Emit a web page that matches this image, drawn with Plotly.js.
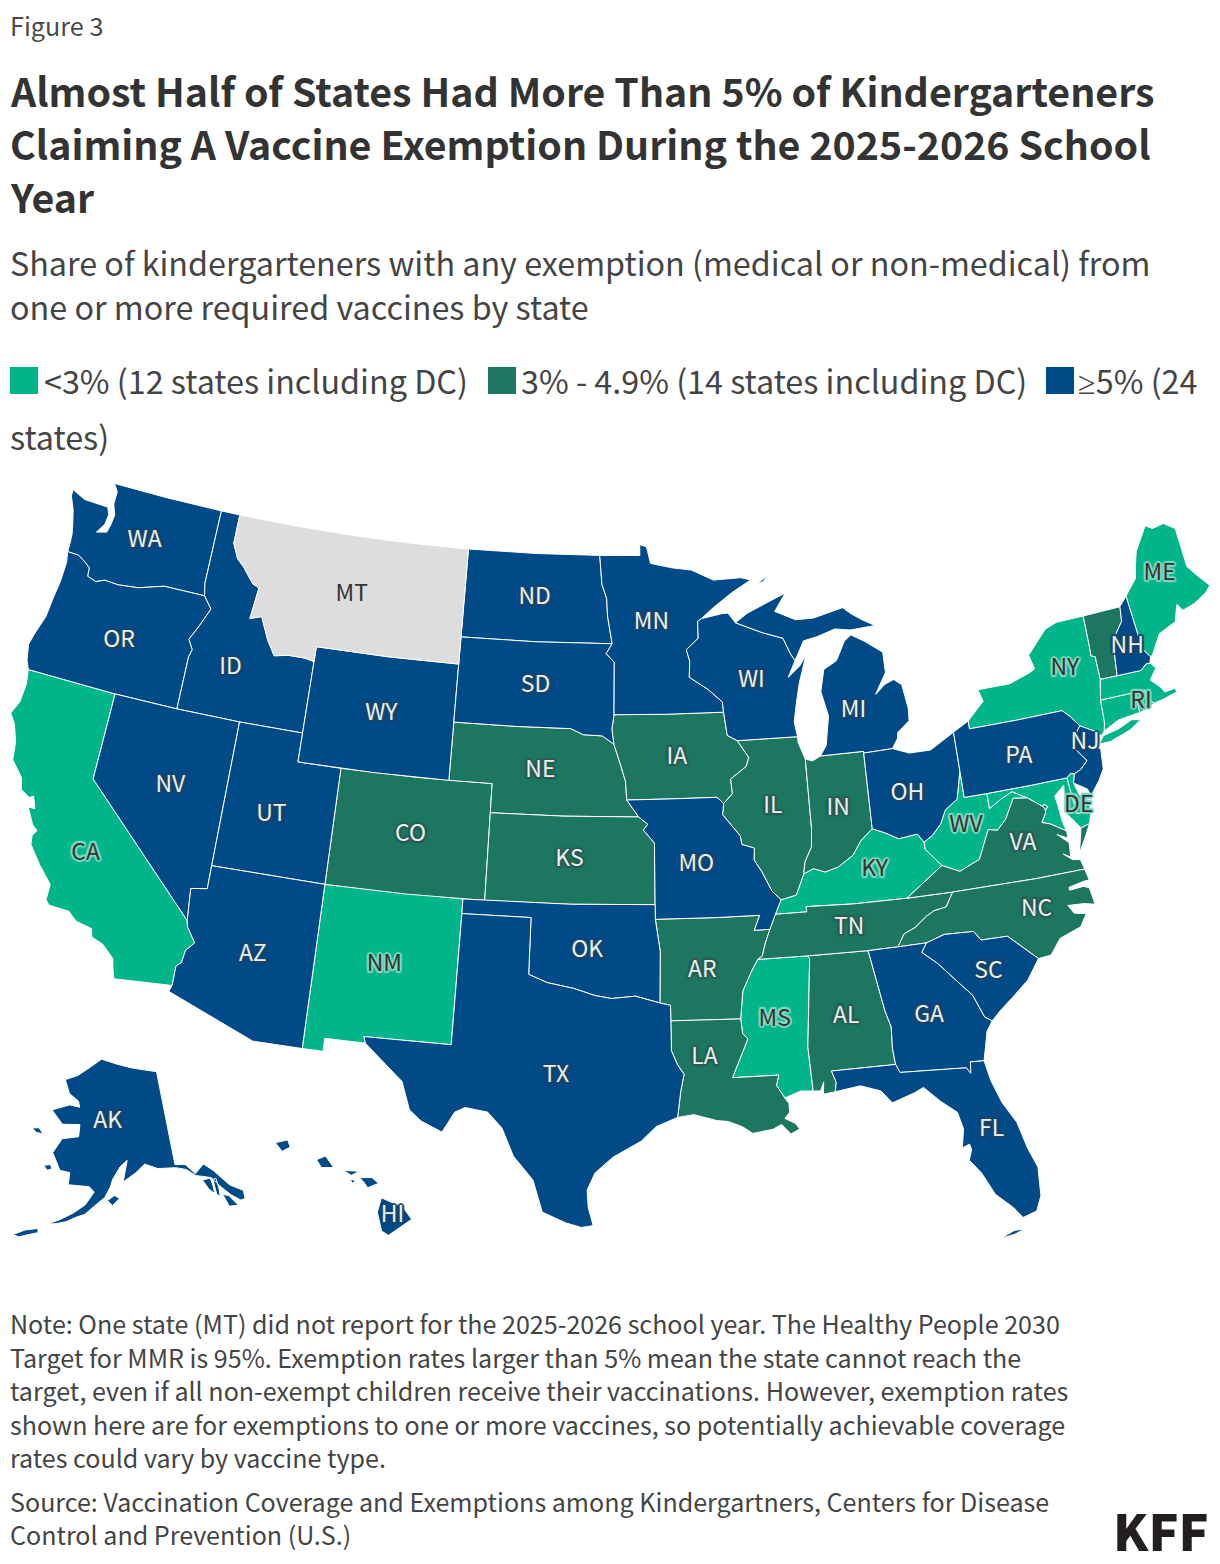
<!DOCTYPE html>
<html><head><meta charset="utf-8">
<script>window.PlotlyGeoAssets={topojson:{usa_110m:{type:'Topology',arcs:[],objects:{land:{type:'GeometryCollection',geometries:[]},ocean:{type:'GeometryCollection',geometries:[]},lakes:{type:'GeometryCollection',geometries:[]},rivers:{type:'GeometryCollection',geometries:[]},coastlines:{type:'GeometryCollection',geometries:[]},countries:{type:'GeometryCollection',geometries:[]},subunits:{type:'GeometryCollection',geometries:[]}}}}};</script>
<script src="https://cdn.plot.ly/plotly-3.0.1.min.js"></script>
<style>html,body{margin:0;padding:0;background:#fff}#c{width:1220px;height:1564px}
svg .geo,svg .geo *{clip-path:none!important}</style>
</head><body><div id="c"></div>
<script>
const lowStates=["CA","NM","MS","KY","WV","NY","ME","MA","CT","RI","MD","DE"];
const midStates=["CO","NE","KS","IA","IL","IN","AR","LA","AL","TN","VA","NC","VT","DC"];
const highStates=["WA","OR","ID","NV","UT","AZ","WY","ND","SD","MN","WI","MI","OH","PA","NJ","NH","MO","OK","TX","GA","SC","FL","AK","HI"];
const noData=["MT"];
const unlabeled=["VT","CT","MA","MD","DC"];
const figureLabel="Figure 3";
const titleLines=["Almost Half of States Had More Than 5% of Kindergarteners","Claiming A Vaccine Exemption During the 2025-2026 School","Year"];
const subtitleLines=["Share of kindergarteners with any exemption (medical or non-medical) from","one or more required vaccines by state"];
const legendLabels=["<3% (12 states including DC)","3% - 4.9% (14 states including DC)","≥5% (24"];
const legendWrap="states)";
const noteLines=["Note: One state (MT) did not report for the 2025-2026 school year. The Healthy People 2030","Target for MMR is 95%. Exemption rates larger than 5% mean the state cannot reach the","target, even if all non-exempt children receive their vaccinations. However, exemption rates","shown here are for exemptions to one or more vaccines, so potentially achievable coverage","rates could vary by vaccine type."];
const sourceLines=["Source: Vaccination Coverage and Exemptions among Kindergartners, Centers for Disease","Control and Prevention (U.S.)"];
const labelPos={WA:[-120.48,47.33],OR:[-120.45,43.78],CA:[-119.5,36.45],ID:[-114.95,43.73],NV:[-116.55,39.37],UT:[-111.85,39.05],AZ:[-111.65,34.25],MT:[-109.7,46.95],WY:[-107.5,43.0],CO:[-105.55,39.0],NM:[-106.1,34.5],ND:[-100.5,47.43],SD:[-100.25,44.4],NE:[-99.85,41.5],KS:[-98.4,38.5],OK:[-97.55,35.4],TX:[-98.73,31.1],MN:[-94.6,46.65],IA:[-93.5,42.0],MO:[-92.77,38.3],AR:[-92.67,34.7],LA:[-92.7,31.7],WI:[-89.8,44.5],IL:[-89.2,40.15],MS:[-89.75,32.9],AL:[-86.8,32.8],TN:[-86.3,35.8],KY:[-84.93,37.67],IN:[-86.25,39.9],MI:[-85.05,43.15],OH:[-83.05,40.1],GA:[-83.4,32.5],FL:[-81.57,28.3],SC:[-80.7,33.7],NC:[-78.25,35.5],VA:[-78.3,37.8],WV:[-80.65,38.75],PA:[-77.75,40.75],NJ:[-74.65,40.73],DE:[-75.54,38.7],NY:[-74.8,43.35],RI:[-71.68,41.66],NH:[-71.65,43.6],ME:[-69.2,45.7],AK:[-154.6,65.1],HI:[-155.5,19.6]};
const arcs={
wa_id:[[-117.03,49],[-117.04,46.42],[-116.92,46]],
wa_or:[[-116.92,46],[-118.98,46],[-119.3,45.93],[-120.2,45.73],[-121.2,45.65],[-121.9,45.68],[-122.3,45.55],[-122.76,45.65],[-122.8,45.95],[-123.2,46.15],[-123.5,46.26],[-124.05,46.27]],
or_id:[[-117.03,42],[-117.03,43.83],[-116.93,44.1],[-117.2,44.42],[-116.85,44.95],[-116.47,45.6],[-116.92,46]],
id_mt:[[-116.05,49],[-116.05,48],[-115.7,47.5],[-115.3,47.25],[-114.7,46.75],[-114.35,46.65],[-114.5,45.55],[-113.95,45.7],[-113.45,44.95],[-113,44.45],[-112.3,44.55],[-111.5,44.55],[-111.05,44.48]],
nv_ca:[[-120,42],[-120,39],[-114.63,35]],
ca_az:[[-114.63,35],[-114.57,34.8],[-114.14,34.3],[-114.45,34],[-114.53,33.55],[-114.72,33.4],[-114.72,32.72]],
red:[[-100,34.56],[-99.2,34.3],[-98.1,34.13],[-97.2,33.9],[-96.5,33.8],[-95.5,33.88],[-94.48,33.64]],
sabine:[[-94.04,33.02],[-94.04,31.99],[-93.8,31.5],[-93.55,31.18],[-93.7,30.6],[-93.75,30.3],[-93.85,29.7]],
oh_wv:[[-80.52,40.64],[-80.85,39.7],[-81.45,39.4],[-81.75,38.95],[-82.2,38.6],[-82.6,38.42]],
oh_ky:[[-82.6,38.42],[-82.85,38.72],[-83.7,38.65],[-84.25,38.9],[-84.82,39.1]],
in_ky:[[-84.82,39.1],[-85.4,38.73],[-85.8,38.28],[-86.5,37.93],[-87.1,37.8],[-87.6,37.95],[-88.05,37.8]],
il_ky:[[-88.05,37.8],[-88.45,37.1],[-89.13,36.98]],
in_il:[[-87.53,41.7],[-87.53,39.35],[-87.6,38.7],[-87.95,38.2],[-88.05,37.8]],
il_ia:[[-90.64,42.5],[-90.15,41.9],[-90.3,41.6],[-91.05,41.2],[-91,40.7],[-91.42,40.38]],
il_mo:[[-91.42,40.38],[-91.5,40],[-90.75,39.25],[-90.7,38.95],[-90.15,38.8],[-90.2,38.4],[-89.9,38],[-89.5,37.3],[-89.13,36.98]],
mo_ar:[[-89.7,36],[-90.37,36],[-90.1,36.5],[-92,36.5],[-94.62,36.5]],
ar_tn:[[-89.7,36],[-89.95,35.5],[-90.1,35.1],[-90.3,35]],
ar_ms:[[-90.3,35],[-90.6,34.6],[-91,33.95],[-91.15,33]],
la_ms:[[-91.15,33],[-91.1,32.5],[-90.9,32.3],[-91.6,31],[-89.73,31],[-89.85,30.65],[-89.55,30.2]],
ms_al:[[-88.2,35],[-88.1,34.9],[-88.47,31.9],[-88.4,30.37]],
al_ga:[[-85.6,34.98],[-85.18,32.87],[-85,32.3],[-85.05,31.55],[-85,31]],
ga_sc:[[-83.1,35],[-83.35,34.7],[-82.75,34.25],[-82,33.5],[-81.5,33],[-81.15,32.2],[-80.87,32.03]],
ga_fl:[[-85,31],[-84.86,30.71],[-82.2,30.57],[-82.05,30.36],[-82,30.75],[-81.45,30.72]],
al_fl:[[-87.52,30.28],[-87.45,30.6],[-87.6,31],[-85,31]],
ne_ia:[[-96.45,42.49],[-96.1,41.7],[-95.9,41.2],[-95.85,40.58]],
ne_mo:[[-95.85,40.58],[-95.31,40]],
ks_mo:[[-95.31,40],[-94.9,39.75],[-95.1,39.55],[-94.61,39.1],[-94.62,37]],
sd_ne:[[-104.05,43],[-101,43],[-98.5,43],[-97.9,42.8],[-97,42.77],[-96.45,42.49]],
sd_ia:[[-96.45,43.5],[-96.55,43],[-96.45,42.49]],
mn_sd:[[-96.45,43.5],[-96.45,45.3],[-96.85,45.6],[-96.56,45.94]],
nd_mn:[[-97.23,49],[-97.1,48],[-96.85,47.5],[-96.8,46.9],[-96.56,45.94]],
mn_wi:[[-92.1,46.75],[-92.29,46.66],[-92.29,46.08],[-92.9,45.7],[-92.75,45.3],[-92.8,44.75],[-91.9,44.3],[-91.25,43.85],[-91.22,43.5]],
ia_wi:[[-91.22,43.5],[-91.1,42.7],[-90.64,42.5]],
wi_mi:[[-90.4,46.55],[-89.1,46.15],[-88.1,45.9],[-87.8,45.35],[-87.6,45.1]],
tn_nc:[[-84.32,34.99],[-84,35.4],[-83.5,35.57],[-82.95,35.9],[-82.6,36.05],[-82.05,36.12],[-81.68,36.59]],
ky_va:[[-83.68,36.6],[-81.97,37.54]],
ky_tn:[[-89.42,36.5],[-88.05,36.5],[-88.07,36.68],[-86,36.62],[-83.68,36.6]],
wv_va:[[-81.97,37.54],[-81.23,37.25],[-80.3,37.55],[-79.7,38.5],[-79.3,38.42],[-78.85,38.75],[-78.35,39.4],[-77.72,39.32]],
ky_wv:[[-81.97,37.54],[-82.6,38.17],[-82.6,38.42]],
md_wv:[[-79.48,39.72],[-79.48,39.2],[-78.9,39.45],[-78.35,39.63],[-77.72,39.32]],
pa_nj:[[-74.7,41.36],[-75.13,40.98],[-75.2,40.68],[-74.73,40.15],[-75.1,39.9],[-75.42,39.8]],
md_va_s:[[-77.04,38.79],[-77.05,38.7],[-77.3,38.4],[-76.95,38.3],[-76.3,37.95]],
vt_nh:[[-71.5,45],[-71.6,44.5],[-72.05,44.1],[-72.3,43.6],[-72.46,42.73]],
sc_nc:[[-83.1,35],[-82.3,35.2],[-81.05,35.15],[-80.8,34.82],[-79.67,34.8],[-78.55,33.86]],
ny_vt:[[-73.35,45],[-73.4,44],[-73.43,43.6],[-73.25,43.55],[-73.27,42.75]],
ny_ne:[[-73.27,42.75],[-73.49,42.05],[-73.55,41.3],[-73.65,41]],
ct_coast:[[-73.65,41],[-72.9,41.25],[-71.86,41.32]],
ma_ct:[[-73.49,42.05],[-71.8,42.02]],
ct_ri:[[-71.8,42.02],[-71.86,41.32]],
ma_ri:[[-71.8,42.02],[-71.38,42.02],[-71.35,41.75],[-71.12,41.5]],
ma_nh:[[-72.46,42.73],[-71.3,42.7],[-71,42.87],[-70.8,42.87]],
nh_me:[[-71.08,45.3],[-70.98,43.4],[-70.7,43.07]]
};
function ring(parts){let out=[];for(const p of parts){if(typeof p==='string'){const rev=p[0]==='-';const a=arcs[rev?p.slice(1):p];out=out.concat(rev?a.slice().reverse():a);}else out.push(p);}return out;}
const stateParts={
WA:[[[-122.76,49],[-120,49],'wa_id','wa_or',[-124.07,46.65],[-124.1,46.9],[-124.2,47.2],[-124.4,47.7],[-124.7,48.15],[-124.72,48.38],[-124,48.17],[-123.1,48.15],[-122.75,48.14],[-122.6,47.9],[-122.65,47.55],[-122.95,47.2],[-122.45,47.3],[-122.35,47.6],[-122.3,47.95],[-122.5,48.3],[-122.5,48.75]]],
OR:[[[-123.95,45.9],[-123.97,45.2],[-124.07,44.6],[-124.15,43.9],[-124.4,43.3],[-124.55,42.84],[-124.4,42.3],[-124.21,42],[-120,42],'or_id','wa_or']],
ID:[[[-117.03,49],'id_mt',[-111.05,42],[-114.04,42],'or_id','-wa_id']],
MT:[[[-116.05,49],[-113,49],[-110,49],[-107,49],[-104.05,49],[-104.05,45],[-107.5,45],[-111.05,45],'-id_mt']],
WY:[[[-111.05,45],[-107.5,45],[-104.05,45],[-104.05,41],[-107.5,41],[-111.05,41]]],
CA:[[[-124.21,42],'nv_ca','ca_az',[-117.12,32.53],[-117.25,32.85],[-117.35,33.2],[-117.9,33.6],[-118.4,33.75],[-118.5,34.03],[-119.2,34.15],[-119.6,34.42],[-120.47,34.45],[-120.65,34.6],[-120.65,35.15],[-121.3,35.7],[-121.9,36.3],[-121.95,36.6],[-121.8,36.8],[-122.05,36.95],[-122.45,37.5],[-122.15,37.5],[-122.35,37.9],[-122.52,37.82],[-122.95,38],[-123.1,38.4],[-123.7,38.9],[-123.8,39.5],[-124.1,40.1],[-124.4,40.4],[-124.15,40.85],[-124.1,41.5]]],
NV:[[[-120,42],[-117.03,42],[-114.04,42],[-114.05,37],[-114.05,36.2],[-114.75,36.1],'-nv_ca']],
AZ:[[[-114.05,37],[-109.05,37],[-109.05,31.33],[-111.07,31.33],[-114.81,32.5],'-ca_az',[-114.75,36.1],[-114.05,36.2]]],
UT:[[[-114.04,42],[-111.05,42],[-111.05,41],[-109.05,41],[-109.05,37],[-114.05,37]]],
CO:[[[-109.05,41],[-105.5,41],[-102.05,41],[-102.05,37],[-105.5,37],[-109.05,37]]],
NM:[[[-109.05,37],[-103,37],[-103,36.5],[-103.04,32],[-106.62,32],[-106.53,31.78],[-108.2,31.78],[-108.2,31.33],[-109.05,31.33]]],
ND:[[[-104.05,49],[-100.5,49],'nd_mn',[-100.3,45.94],[-104.05,45.94]]],
SD:[[[-104.05,45.94],[-100.3,45.94],'-mn_sd','sd_ia','-sd_ne']],
NE:[['sd_ne','ne_ia','ne_mo',[-98.7,40],[-102.05,40],[-102.05,41],[-104.05,41]]],
KS:[[[-102.05,40],[-98.7,40],'ks_mo',[-98.3,37],[-102.05,37]]],
OK:[[[-103,37],[-98.3,37],[-94.62,37],[-94.62,36.5],[-94.43,35.4],'-red',[-100,36.5],[-103,36.5]]],
TX:[[[-103,36.5],[-100,36.5],'red',[-94.04,33.55],'sabine',[-94.7,29.4],[-95.3,28.9],[-96.4,28.35],[-97.1,27.8],[-97.4,27.2],[-97.35,26.6],[-97.15,25.97],[-97.6,25.9],[-98.2,26.05],[-99.1,26.4],[-99.5,27.5],[-100.3,28.3],[-100.8,29.25],[-101.4,29.77],[-102.3,29.88],[-102.7,29.7],[-103.15,28.98],[-104,29.3],[-104.5,29.65],[-104.9,30.6],[-106,31.4],[-106.53,31.78],[-106.62,32],[-103.04,32]]],
MN:[[[-97.23,49],[-95.15,49],[-95.15,49.38],[-94.8,49.3],[-94.6,48.72],[-93.5,48.55],[-92.5,48.45],[-91.4,48.07],[-90,48.1],[-89.5,48],[-90.5,47.6],[-91.5,47.1],'mn_wi',[-94,43.5],'mn_sd','-nd_mn']],
IA:[[[-96.45,43.5],[-94,43.5],[-91.22,43.5],'ia_wi','il_ia',[-91.72,40.6],[-93.8,40.6],[-95.85,40.58],'-ne_ia','-sd_ia']],
MO:[[[-95.85,40.58],[-93.8,40.6],[-91.72,40.6],'il_mo',[-89.42,36.5],'mo_ar',[-94.62,37],'-ks_mo','-ne_mo']],
AR:[['-mo_ar','ar_tn','ar_ms',[-94.04,33.02],[-94.04,33.55],[-94.48,33.64],[-94.43,35.4]]],
LA:[[[-94.04,33.02],'la_ms',[-89.4,30],[-89.4,29.7],[-89.6,29.5],[-89.2,29.3],[-89.05,29.1],[-89.4,28.95],[-89.75,29.3],[-90.1,29.15],[-90.9,29.05],[-91.3,29.3],[-91.85,29.5],[-92.3,29.55],[-93.2,29.78],'-sabine']],
WI:[[[-91,46.9],[-90.75,46.9],'wi_mi',[-88,44.55],[-87.4,44.9],[-87.05,45.25],[-87.5,44.3],[-87.7,43.7],[-87.9,43],[-87.8,42.49],[-90.64,42.5],'-ia_wi','-mn_wi']],
MI:[[[-86.82,41.76],[-84.8,41.76],[-84.8,41.7],[-83.45,41.73],[-83.15,42.05],[-83.1,42.25],[-82.5,42.6],[-82.45,43],[-82.6,43.85],[-82.95,44.07],[-83.4,43.95],[-83.9,43.65],[-83.3,44.35],[-83.3,45.05],[-84.1,45.5],[-84.75,45.78],[-85.1,45.6],[-85.4,45.2],[-85.6,44.95],[-86.25,44.7],[-86.5,43.95],[-86.25,43.1],[-86.5,42.1]],['wi_mi',[-87.1,45.75],[-86.4,45.85],[-85.5,46.05],[-84.75,45.95],[-83.5,46],[-84.1,46.25],[-84.6,46.5],[-85,46.75],[-86.5,46.5],[-87.4,46.5],[-88.4,46.85],[-87.8,47.45],[-88.5,47.25],[-89.8,46.85]],[[-89.2,47.85],[-88.5,48.15],[-88.9,47.9]]],
IL:[[[-87.53,41.7],[-87.8,42.3],[-87.8,42.49],'il_ia','il_mo','-il_ky','-in_il']],
IN:[[[-84.82,39.1],[-84.8,41.76],[-86.82,41.76],[-87.2,41.62],'in_il','-in_ky']],
OH:[[[-84.82,39.1],[-84.8,41.7],[-83.45,41.73],[-82.7,41.5],[-81.7,41.5],[-80.52,41.98],'oh_wv','oh_ky']],
KY:[['ky_tn','ky_va','ky_wv','oh_ky','in_ky','il_ky']],
TN:[[[-89.7,36],'ar_tn',[-88.2,35],[-85.6,34.98],'tn_nc',[-83.68,36.6],[-86,36.62],[-88.07,36.68],[-88.05,36.5],[-89.42,36.5]]],
MS:[[[-90.3,35],[-88.2,35],'ms_al',[-88.9,30.4],'-la_ms','-ar_ms']],
AL:[[[-88.2,35],[-85.6,34.98],'al_ga','-al_fl',[-88,30.23],[-87.95,30.65],[-88.1,30.35],'-ms_al']],
GA:[[[-85.6,34.98],[-84.32,34.99],[-83.1,35],'ga_sc',[-81.15,31.7],[-81.3,31.2],'-ga_fl','-al_ga']],
FL:[['al_fl','ga_fl',[-81.3,30],[-81,29.2],[-80.55,28.45],[-80.3,27.5],[-80.03,26.8],[-80.1,25.8],[-80.35,25.3],[-80.9,25.15],[-81.2,25.55],[-81.8,26.1],[-82.2,26.9],[-82.6,27.4],[-82.45,27.75],[-82.5,27.95],[-82.8,27.85],[-82.65,28.5],[-82.8,29.1],[-83.4,29.55],[-84,30.1],[-84.4,29.95],[-85.3,29.7],[-85.7,30.15],[-86.5,30.4]],[[-81.85,24.55],[-81.3,24.75],[-80.9,24.75],[-81.3,24.62]]],
SC:[['sc_nc',[-79.15,33.2],[-79.9,32.7],[-80.45,32.35],'-ga_sc']],
NC:[['tn_nc',[-78,36.56],[-75.87,36.55],[-75.78,36.15],[-76,36.15],[-76.7,36.05],[-76.7,35.95],[-76.1,35.98],[-75.85,35.9],[-75.75,35.3],[-76.2,35.4],[-76.9,35.45],[-76.7,35.15],[-76.2,35.05],[-76.55,34.65],[-77.5,34.4],[-78,33.9],'-sc_nc']],
VA:[[[-83.68,36.6],[-81.68,36.59],[-78,36.56],[-75.87,36.55],[-75.97,36.9],[-76.3,36.95],[-76.65,37.2],[-76.35,37.05],[-76.3,37.55],[-76.75,37.9],[-76.3,37.7],'-md_va_s',[-77.05,38.87],[-77.12,38.93],'-wv_va','-ky_va'],[[-75.95,37.12],[-75.6,37.55],[-75.24,38.03],[-75.65,37.95]]],
WV:[['ky_wv','-oh_wv',[-80.52,39.72],'md_wv','-wv_va']],
PA:[[[-80.52,41.98],[-79.76,42.27],[-79.76,42],[-77.5,42],[-75.35,42],[-75.05,41.75],'pa_nj',[-75.6,39.84],[-75.79,39.72],[-77.5,39.72],[-79.48,39.72],[-80.52,39.72],[-80.52,40.64]]],
NY:[[[-79.76,42.27],[-78.9,42.85],[-79.05,43.27],[-77.5,43.27],[-76.5,43.5],[-76.2,43.6],[-76.35,44.1],[-75.3,44.85],[-74.7,45],'ny_vt','ny_ne',[-73.85,40.85],[-73.95,41],[-74.7,41.36],[-75.05,41.75],[-75.35,42],[-77.5,42],[-79.76,42]],[[-74,40.6],[-73.75,40.85],[-73,40.95],[-72.3,41.15],[-71.9,41.07],[-72.5,40.82],[-73.5,40.6]]],
NJ:[['pa_nj',[-75.55,39.5],[-75,39.2],[-74.9,38.95],[-74.4,39.4],[-74.1,39.75],[-74,40.45],[-74.2,40.5],[-74.03,40.7],[-73.95,41]]],
DE:[[[-75.79,39.72],[-75.6,39.84],[-75.42,39.8],[-75.55,39.5],[-75.4,39.05],[-75.1,38.8],[-75.05,38.45],[-75.7,38.46]]],
MD:[[[-79.48,39.72],[-77.5,39.72],[-75.79,39.72],[-75.7,38.46],[-75.05,38.45],[-75.24,38.03],[-75.65,37.95],[-75.85,38.2],[-76.2,38.6],[-76,39.5],[-76.5,39.2],[-76.45,38.9],[-76.4,38.3],[-76.3,37.95],[-76.95,38.3],[-77.3,38.4],[-77.05,38.7],[-77.04,38.79],[-76.91,38.89],[-77.04,39],[-77.12,38.93],'-md_wv']],
DC:[[[-77.12,38.93],[-77.04,39],[-76.91,38.89],[-77.04,38.79],[-77.05,38.87]]],
VT:[[[-73.35,45],[-71.5,45],'vt_nh',[-73.27,42.75],'-ny_vt']],
NH:[[[-71.5,45],[-71.08,45.3],'nh_me',[-70.8,42.87],'-ma_nh','-vt_nh']],
ME:[[[-71.08,45.3],[-70.4,45.8],[-70.25,46.2],[-70,46.7],[-69.22,47.46],[-68.9,47.3],[-68.3,47.36],[-67.8,47.07],[-67.8,45.7],[-67.45,45.3],[-67,44.85],[-67.3,44.65],[-68,44.4],[-68.6,44.3],[-68.8,44.55],[-69,44.2],[-69.1,44],[-70,43.75],[-70.6,43.1],[-70.7,43.07],[-70.98,43.4]]],
MA:[[[-73.27,42.75],[-72.46,42.73],'ma_nh',[-70.6,42.65],[-71,42.3],[-70.6,41.95],[-70.5,41.78],[-70,41.8],[-70.05,42.05],[-69.95,41.67],[-70.65,41.55],[-71.12,41.5],'-ma_ri','-ma_ct']],
CT:[['ma_ct','ct_ri','-ct_coast',[-73.55,41.3]]],
RI:[['ma_ri',[-71.5,41.37],[-71.86,41.32],'-ct_ri']],
AK:[[[-141,69.65],[-144,70],[-148,70.4],[-152,70.85],[-156.6,71.35],[-160,70.4],[-163,69.5],[-166.2,68.9],[-164.5,67.6],[-162,67],[-161.5,66.4],[-164,66.5],[-168,65.7],[-165,64.5],[-161,64.7],[-161,63.5],[-164.5,63.1],[-166,61.6],[-164,60],[-162,59.9],[-162,58.7],[-158,58.7],[-157,58.2],[-158.5,56.9],[-160.5,56],[-163,55.1],[-164.8,54.6],[-163.3,54.75],[-161.5,55.1],[-160,55.6],[-158.5,55.95],[-156.5,57],[-155,57.7],[-154,58.7],[-153.5,59.5],[-152,60.7],[-150.5,61.3],[-151.5,59.2],[-149,60],[-147,60.8],[-144.5,60.2],[-141,60],[-139,59.6],[-137.5,58.8],[-135.8,58.45],[-134.8,58.2],[-133.5,57],[-132.3,56],[-131,55.2],[-130.2,55.2],[-130,56],[-132,57],[-134,58.8],[-135.5,59.7],[-137.5,59],[-139,60.1],[-141,60.3]],[[-136.5,58.2],[-135,58.2],[-134.9,57.4],[-135,56.6],[-135.8,57.2]],[[-134.6,58],[-134,58],[-134,57],[-134.2,56.2],[-134.7,56.5]],[[-133.7,56.3],[-132.7,56],[-132,55.2],[-131.7,54.8],[-133.2,55]],[[-154.5,57.4],[-153.2,57.9],[-152.3,57.6],[-153.6,56.9]],[[-171.5,63.5],[-170,63.7],[-168.8,63.2],[-170.3,63.2]],[[-167.3,60.2],[-166,60.4],[-165.6,60],[-166.5,59.8]],[[-170,52.9],[-168.2,53.6],[-166.2,54],[-166,53.6],[-167.6,53.2],[-169,52.8]]],
HI:[[[-155.9,20.25],[-155.1,19.9],[-154.8,19.5],[-155.65,18.95],[-155.9,19.1],[-156.05,19.75]],[[-156.7,20.95],[-156.25,20.95],[-156,20.75],[-156.4,20.6],[-156.55,20.8]],[[-157.3,21.2],[-156.7,21.17],[-157,21.03]],[[-157.05,20.9],[-156.85,20.85],[-156.95,20.75]],[[-158.28,21.57],[-157.95,21.7],[-157.65,21.3],[-158.1,21.3]],[[-159.8,22.15],[-159.35,22.25],[-159.25,22],[-159.55,21.85]]]
};
function cw(r){let a=0;for(let i=0;i<r.length;i++){const p=r[i],q=r[(i+1)%r.length];a+=(q[0]-p[0])*(q[1]+p[1]);}
 const c=r.slice();if(a<0)c.reverse();c.push(c[0]);return c;}
const features=Object.keys(stateParts).map(id=>({type:'Feature',id,properties:{},geometry:{type:'MultiPolygon',coordinates:stateParts[id].map(p=>[cw(ring(p))])}}));
const geojson={type:'FeatureCollection',features};
const C={low:'#00B58A',mid:'#1C7660',high:'#004A87',none:'#DDDDDD'};
function choro(locs,col){return {type:'choropleth',geojson,locationmode:'geojson-id',featureidkey:'id',locations:locs,z:locs.map(()=>1),
 colorscale:[[0,col],[1,col]],showscale:false,marker:{line:{color:'#fff',width:1}},hoverinfo:'location'};}
const FS='"Noto Sans CJK SC","Noto Sans",sans-serif';
function halo(c){return `2px 0 1px ${c},-2px 0 1px ${c},0 2px 1px ${c},0 -2px 1px ${c},1.5px 1.5px 1px ${c},-1.5px 1.5px 1px ${c},1.5px -1.5px 1px ${c},-1.5px -1.5px 1px ${c}`;}
function labels(locs,color,h){const l=locs.filter(s=>!unlabeled.includes(s));return {type:'scattergeo',mode:'text',lon:l.map(s=>labelPos[s][0]),lat:l.map(s=>labelPos[s][1]),text:l,hoverinfo:'skip',
 textfont:{family:FS,size:23,color,shadow:h?halo(h):'none'},textposition:'middle center'};}
const ann=[];
function T(text,x,y,size,color,weight){ann.push({text,x:x/1220,y:1-y/1564,xref:'paper',yref:'paper',xanchor:'left',yanchor:'middle',showarrow:false,align:'left',font:{family:FS,size,color,weight:weight||400}});}
T(figureLabel,7.5,25.5,25.2,'#4a4a4a');
titleLines.forEach((s,i)=>T(s,7.5,89.5+i*53,39.35,'#333',700));
subtitleLines.forEach((s,i)=>T(s,7.5,262+i*44,32.3,'#444'));
const legX=[41.5,518.5,1075.5],swX=[10,488,1046],swC=[C.low,C.mid,C.high];
legendLabels.forEach((s,i)=>T(s.replace('≥','<span style="font-family:\'Noto Sans\'">≥</span>').replace('<3','&lt;3'),legX[i],380,32.3,'#444'));
T(legendWrap,7.5,436,32.3,'#444');
noteLines.forEach((s,i)=>T(s,7.5,1323+i*33.5,25.07,'#444'));
T(sourceLines.join('<br>'),7.5,1517,25.07,'#444');
ann.push({text:'KFF',x:1211/1220,y:1-1529/1564,xref:'paper',yref:'paper',xanchor:'right',yanchor:'middle',showarrow:false,font:{family:FS,size:50,color:'#231F20',weight:900}});
const shapes=swX.map((x,i)=>({type:'rect',xref:'paper',yref:'paper',x0:x/1220,x1:(x+28)/1220,y0:1-367/1564,y1:1-394/1564,fillcolor:swC[i],line:{width:0}}));
Plotly.newPlot('c',[choro(lowStates,C.low),choro(midStates,C.mid),choro(highStates,C.high),choro(noData,C.none),
 labels(lowStates,'#333','#7FD8BF'),labels(midStates,'#E3F4F2','#2E5A50'),labels(highStates,'#E3F4F2','#1E4468'),labels(noData,'#333',null)],
{width:1220,height:1564,margin:{l:0,r:0,t:0,b:0},paper_bgcolor:'#fff',showlegend:false,annotations:ann,shapes,
 geo:{scope:'usa',projection:{type:'albers usa',scale:1.24},domain:{x:[0,1],y:[0.2033,0.7033]},bgcolor:'rgba(0,0,0,0)',showland:false,showlakes:false,showocean:false,showrivers:false,showcoastlines:false,showcountries:false,showsubunits:false,showframe:false}
},{displayModeBar:false});
</script></body></html>
